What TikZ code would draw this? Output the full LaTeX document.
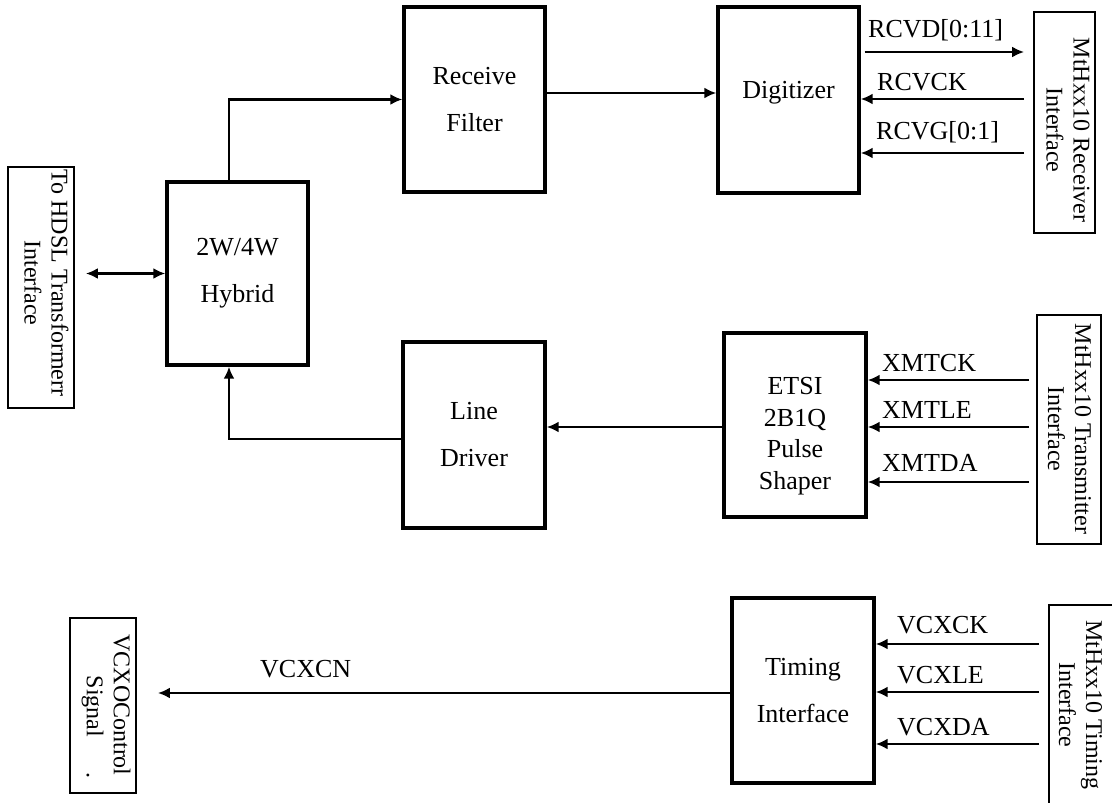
\documentclass[tikz,border=0pt]{standalone}
\usepackage{fontspec}
\setmainfont{Liberation Serif}
\usetikzlibrary{arrows.meta,calc}
\begin{document}
\begin{tikzpicture}[x=1pt,y=-1pt,
  blk/.style={draw, line width=3.4pt, minimum width=141pt, inner sep=0pt, align=center, font=\fontsize{26}{47}\selectfont},
  ifc/.style={draw, line width=1.8pt, inner sep=0pt},
  rtxt/.style={rotate=-90, align=center, inner sep=0pt, font=\fontsize{24}{27}\selectfont},
  btxt/.style={align=center, inner sep=0pt, font=\fontsize{26}{47}\selectfont},
  lbl/.style={anchor=west, inner sep=0pt, font=\fontsize{26}{30}\selectfont},
  conn/.style={line width=2.4pt, -{Latex[length=12pt,width=11pt]}},
  dconn/.style={line width=2.4pt, {Latex[length=12pt,width=11pt]}-{Latex[length=12pt,width=11pt]}}]
\useasboundingbox (0,0) rectangle (1112,803);

% main blocks
\node[blk, minimum height=183pt] (hyb) at (237.5,273.5) {2W/4W\\Hybrid};
\node[blk, minimum height=185pt] (rf) at (474.5,99.5) {Receive\\Filter};
\node[blk, minimum height=186pt] (dig) at (788.5,100) {};
\node[btxt] (digt) at (788.5,93) {Digitizer};
\node[blk, minimum height=186pt, minimum width=142pt] (ld) at (474,435) {Line\\Driver};
\node[blk, minimum height=184pt, minimum width=142pt] (ps) at (795,425) {};
\node[btxt, font=\fontsize{26}{31.5}\selectfont] (pst) at (795,436) {ETSI\\2B1Q\\Pulse\\Shaper};
\node[blk, minimum height=185pt, minimum width=142pt] (ti) at (803,690.5) {Timing\\Interface};

% interface boxes
\node[ifc, minimum width=66pt, minimum height=241pt] (hdsl) at (41,287.5) {};
\node[rtxt] (hdslt) at (46.5,283) {To HDSL Transformerr\\Interface};
\node[ifc, minimum width=61pt, minimum height=221pt] (rxi) at (1064.5,122.5) {};
\node[rtxt] (rxit) at (1068,130) {MtHxx10 Receiver\\Interface};
\node[ifc, minimum width=64pt, minimum height=229pt] (txi) at (1069,429.5) {};
\node[rtxt] (txit) at (1069.5,429) {MtHxx10 Transmitter\\Interface};
\node[ifc, minimum width=76pt, minimum height=207pt] (tmi) at (1087,708.5) {};
\node[rtxt] (tmit) at (1080.5,705) {MtHxx10 Timing\\Interface};
\node[ifc, minimum width=66pt, minimum height=175pt] (vcxo) at (103,705.5) {};
\node[rtxt] (vcxot) at (106,705) {VCXOControl\\\hspace*{44pt}Signal\hspace{35pt}.};

% connectors
\draw[dconn, shorten <=11pt] (hdsl.east |- hyb.west) -- (hyb.west);
\draw[conn] ([xshift=-8.5pt]hyb.north) |- (rf.west);
\draw[conn] (rf.east |- 0,93) -- (dig.west |- 0,93);
\draw[conn, shorten <=4pt, shorten >=9pt] (dig.east |- 0,52) -- (rxi.west |- 0,52);
\draw[conn, shorten <=9pt] (rxi.west |- 0,99) -- (dig.east |- 0,99);
\draw[conn, shorten <=9pt] (rxi.west |- 0,153) -- (dig.east |- 0,153);
\draw[conn] (ps.west |- 0,427) -- (ld.east |- 0,427);
\draw[conn] (ld.west |- 0,439) -| ([xshift=-8.5pt]hyb.south);
\foreach \yy in {380,427,482}
  \draw[conn, shorten <=7pt] (txi.west |- 0,\yy) -- (ps.east |- 0,\yy);
\foreach \yy in {644,692,744}
  \draw[conn, shorten <=9pt] (tmi.west |- 0,\yy) -- (ti.east |- 0,\yy);
\draw[conn, shorten >=21pt] (ti.west |- 0,693) -- (vcxo.east |- 0,693);

% labels
\node[lbl] (lrcvd) at (868,30) {RCVD[0:11]};
\node[lbl] (lrcvck) at (877,82) {RCVCK};
\node[lbl] (lrcvg) at (876,132) {RCVG[0:1]};
\node[lbl] (lxmtck) at (882,363) {XMTCK};
\node[lbl] (lxmtle) at (882,410) {XMTLE};
\node[lbl] (lxmtda) at (882,463) {XMTDA};
\node[lbl] (lvcxck) at (897,625) {VCXCK};
\node[lbl] (lvcxle) at (897,675) {VCXLE};
\node[lbl] (lvcxda) at (897,727) {VCXDA};
\node[lbl] (lvcxcn) at (260,669) {VCXCN};
\end{tikzpicture}
\end{document}
